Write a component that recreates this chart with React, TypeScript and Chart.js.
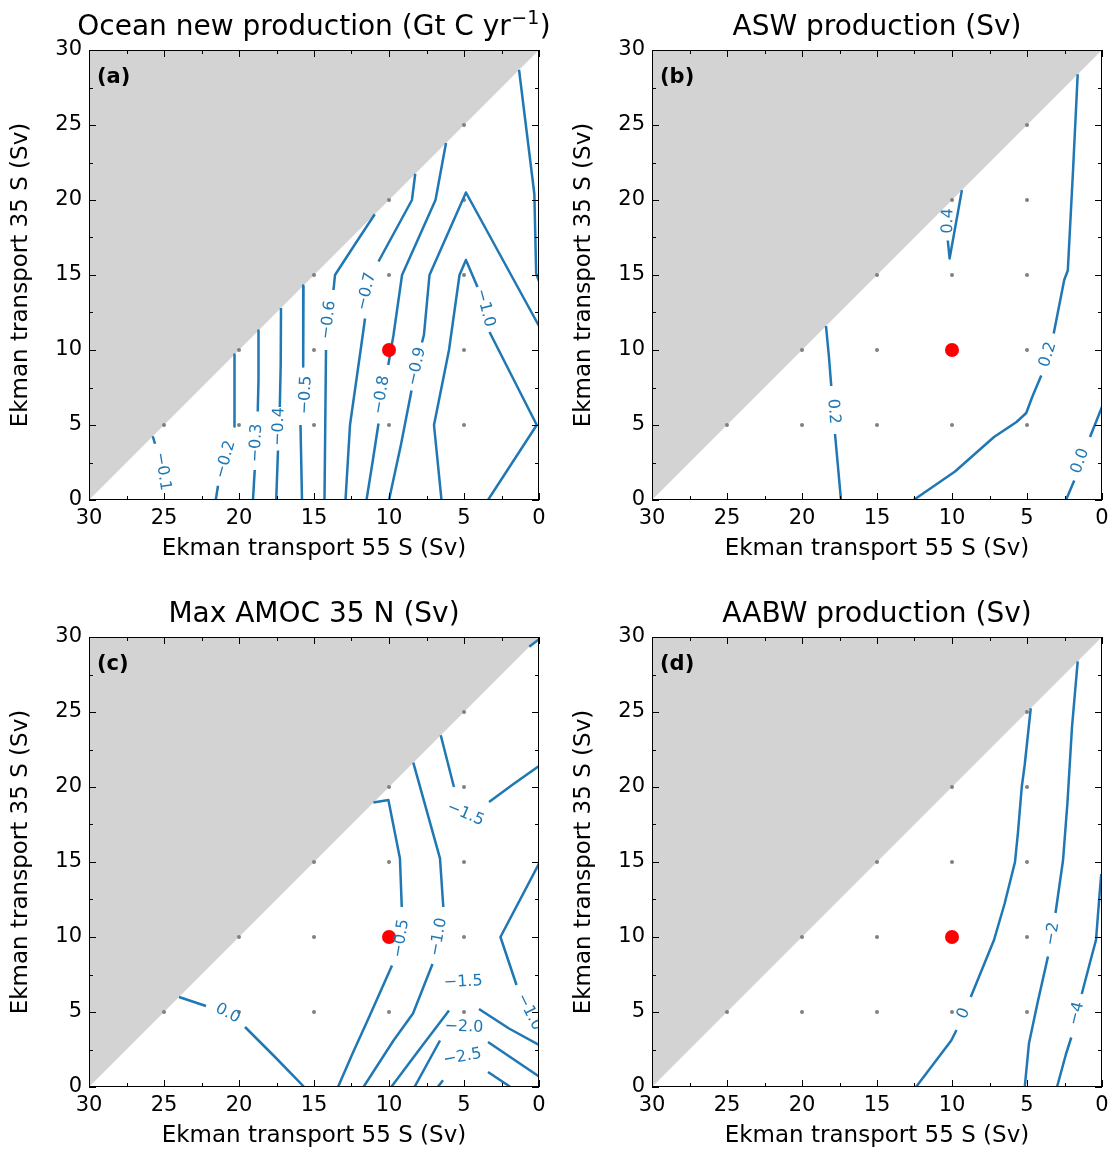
import React, { useEffect, useRef } from 'react';
import { Chart, registerables } from 'chart.js';

Chart.register(...registerables);

type Pt = [number, number] | null;
type ContourLabel = { text: string; x: number; y: number; line: Pt[] };
type TitleParts = { main: string; sup?: string; tail?: string };

const FONT = "'DejaVu Sans', sans-serif";
const LINE_BLUE = '#1f77b4';
const MASK_GREY = '#d3d3d3';

// axis ticks (Sv)
const TICK_VALUES = [0, 5, 10, 15, 20, 25, 30];
const MINOR_TICK_VALUES = [2.5, 7.5, 12.5, 17.5, 22.5, 27.5];

// model runs (grey dots) and control run (red dot)
const SAMPLE_X = [25, 20, 15, 10, 5, 20, 15, 10, 5, 15, 10, 5, 10, 5, 5];
const SAMPLE_Y = [5, 5, 5, 5, 5, 10, 10, 10, 10, 15, 15, 15, 20, 20, 25];
const CONTROL_X = [10];
const CONTROL_Y = [10];

// masked region corners
const MASK_CORNERS: [number, number][] = [[30, 0], [30, 30], [0, 30]];

// ---------- (a) Ocean new production ----------
const A_01: Pt[] = [[25.75, 4.25], [25.6, 3.75], null, [25.0, 0]];
const A_02: Pt[] = [[20.3, 9.7], [20.3, 7.5], [20.3, 4.9], null, [21.4, 0.95], [21.55, 0]];
const A_03: Pt[] = [[18.7, 11.3], [18.7, 8.0], [18.75, 5.9], null, [18.95, 2.0], [19.07, 0]];
const A_04: Pt[] = [[17.2, 12.8], [17.22, 9.0], [17.28, 6.2], null, [17.4, 3.3], [17.52, 0]];
const A_05: Pt[] = [[15.7, 14.3], [15.72, 11.0], [15.72, 8.9], null, [15.9, 5.0], [15.85, 2.5], [15.8, 0]];
const A_06: Pt[] = [[10.95, 19.05], [12.3, 17.0], [13.6, 15.0], [13.7, 14.0], null, [14.2, 10.0], [14.25, 5.0], [14.3, 0]];
const A_07: Pt[] = [[8.25, 21.75], [8.47, 20.0], [10.7, 15.9], null, [11.6, 12.1], [11.75, 11.0], [12.6, 5.0], [12.9, 0]];
const A_08: Pt[] = [[6.2, 23.8], [6.9, 20.0], [9.13, 15.0], [9.7, 11.0], [10.05, 9.0], null, [10.7, 5.1], [11.1, 2.5], [11.5, 0]];
const A_09: Pt[] = [[10.0, 0], [9.2, 3.7], [8.5, 7.3], null, [7.8, 10.5], [7.67, 11.0], [7.3, 15.0], [4.87, 20.5], [0, 11.6]];
const A_10: Pt[] = [[6.5, 0], [7.0, 5.0], [6.0, 10.0], [5.3, 15.0], [4.87, 16.0], [4.4, 14.9], [4.1, 14.2], null, [3.3, 11.2], [0.15, 5.0], [3.4, 0]];
const A_11: Pt[] = [[1.33, 28.67], [0.31, 20.4], [0.19, 15.1], [0, 14.6]];
const A_CONTOURS = [A_01, A_02, A_03, A_04, A_05, A_06, A_07, A_08, A_09, A_10, A_11];
const A_LABELS: ContourLabel[] = [
  { text: '−0.1', x: 25.1, y: 1.9, line: A_01 },
  { text: '−0.2', x: 20.9, y: 2.7, line: A_02 },
  { text: '−0.3', x: 18.85, y: 3.8, line: A_03 },
  { text: '−0.4', x: 17.35, y: 4.9, line: A_04 },
  { text: '−0.5', x: 15.55, y: 7.0, line: A_05 },
  { text: '−0.6', x: 14.05, y: 12.0, line: A_06 },
  { text: '−0.7', x: 11.5, y: 13.9, line: A_07 },
  { text: '−0.8', x: 10.5, y: 7.0, line: A_08 },
  { text: '−0.9', x: 8.15, y: 8.9, line: A_09 },
  { text: '−1.0', x: 3.6, y: 12.8, line: A_10 },
];

// ---------- (b) ASW production ----------
const B_01: Pt[] = [[18.4, 11.6], [18.2, 9.5], [18.05, 7.6], null, [17.8, 4.4], [17.6, 2.2], [17.4, 0]];
const B_02: Pt[] = [[12.56, 0], [9.8, 1.9], [7.2, 4.2], [5.7, 5.2], [5.05, 5.8], [4.64, 6.9], [4.05, 8.3], null, [3.22, 11.1], [2.52, 14.67], [2.28, 15.3], [1.93, 22.0], [1.62, 28.38]];
const B_03: Pt[] = [[0, 6.2], [0.8, 4.2], null, [1.85, 1.3], [2.4, 0]];
const B_04: Pt[] = [[10.22, 19.78], null, [10.28, 17.3], [10.16, 16.1], [9.34, 20.66]];
const B_CONTOURS = [B_01, B_02, B_03, B_04];
const B_LABELS: ContourLabel[] = [
  { text: '0.2', x: 17.9, y: 5.9, line: B_01 },
  { text: '0.2', x: 3.6, y: 9.7, line: B_02 },
  { text: '0.0', x: 1.45, y: 2.6, line: B_03 },
  { text: '0.4', x: 10.26, y: 18.6, line: B_04 },
];

// ---------- (c) Max AMOC 35 N ----------
const C_01: Pt[] = [[24.0, 6.0], [22.2, 5.4], null, [19.6, 4.0], [17.6, 2.0], [15.65, 0]];
const C_02: Pt[] = [[11.04, 18.96], [10.04, 19.13], [9.27, 15.24], [9.15, 12.0], null, [9.8, 8.1], [11.4, 4.5], [12.4, 2.3], [13.4, 0]];
const C_03: Pt[] = [[8.38, 21.62], [6.6, 15.24], [6.38, 12.0], null, [7.1, 8.2], [8.4, 4.9], [9.7, 3.1], [11.7, 0]];
const C_04: Pt[] = [[6.55, 23.45], [5.67, 20.0], null, [3.33, 19.0], [1.7, 20.2], [0, 21.4]];
const C_05: Pt[] = [[0.65, 29.35], [0, 29.85]];
const C_06: Pt[] = [[9.85, 0], [7.9, 2.6], [6.0, 5.1], null, [4.0, 5.2], [2.0, 3.9], [0, 2.8]];
const C_07: Pt[] = [[8.3, 0], [6.6, 3.1], null, [3.4, 3.0], [0, 0.7]];
const C_08: Pt[] = [[6.75, 0], [6.4, 0.45], null, [3.4, 1.0], [1.9, 0]];
const C_09: Pt[] = [[0, 14.9], [2.57, 10.0], [1.5, 6.8], null, [0, 3.8]];
const C_CONTOURS = [C_01, C_02, C_03, C_04, C_05, C_06, C_07, C_08, C_09];
const C_LABELS: ContourLabel[] = [
  { text: '0.0', x: 20.75, y: 4.9, line: C_01 },
  { text: '−0.5', x: 9.2, y: 9.9, line: C_02 },
  { text: '−1.0', x: 6.7, y: 10.0, line: C_03 },
  { text: '−1.5', x: 4.9, y: 18.2, line: C_04 },
  { text: '−1.5', x: 5.05, y: 7.0, line: C_06 },
  { text: '−2.0', x: 5.0, y: 4.0, line: C_07 },
  { text: '−2.5', x: 5.1, y: 2.0, line: C_08 },
  { text: '−1.0', x: 0.65, y: 5.0, line: C_09 },
];

// ---------- (d) AABW production ----------
const D_01: Pt[] = [[12.4, 0], [10.05, 3.1], [9.7, 3.8], null, [8.75, 6.0], [7.2, 9.8], [6.5, 12.2], [5.8, 15.0], [5.6, 17.0], [5.35, 20.0], [5.15, 21.5], [4.75, 25.25]];
const D_02: Pt[] = [[5.15, 0], [4.87, 2.9], [4.3, 5.6], [3.6, 8.7], null, [3.1, 11.6], [2.6, 15.1], [2.3, 19.0], [2.0, 24.0], [1.62, 28.38]];
const D_03: Pt[] = [[3.0, 0], [2.4, 2.2], [2.05, 3.3], null, [1.35, 6.2], [0.8, 8.3], [0.4, 9.8], [0.15, 13.0], [0.05, 14.2]];
const D_CONTOURS = [D_01, D_02, D_03];
const D_LABELS: ContourLabel[] = [
  { text: '0', x: 9.22, y: 4.9, line: D_01 },
  { text: '−2', x: 3.3, y: 10.2, line: D_02 },
  { text: '−4', x: 1.7, y: 4.9, line: D_03 },
];

const X_TITLE = 'Ekman transport 55 S (Sv)';
const Y_TITLE = 'Ekman transport 35 S (Sv)';

function splitPieces(line: Pt[]): [number, number][][] {
  const pieces: [number, number][][] = [];
  let cur: [number, number][] = [];
  for (const p of line) {
    if (p === null) {
      if (cur.length > 1) pieces.push(cur);
      cur = [];
    } else cur.push(p);
  }
  if (cur.length > 1) pieces.push(cur);
  return pieces;
}

function gapAngle(line: Pt[], xs: any, ys: any): number {
  const i = line.indexOf(null);
  if (i < 1 || i >= line.length - 1) return 0;
  const a = line[i - 1] as [number, number];
  const b = line[i + 1] as [number, number];
  const dx = xs.getPixelForValue(b[0]) - xs.getPixelForValue(a[0]);
  const dy = ys.getPixelForValue(b[1]) - ys.getPixelForValue(a[1]);
  let ang = Math.atan2(dy, dx);
  if (ang > Math.PI / 2) ang -= Math.PI;
  if (ang <= -Math.PI / 2) ang += Math.PI;
  return ang;
}

function makeDecor(title: TitleParts, letter: string, labels: ContourLabel[]) {
  return {
    id: 'panelDecor',
    beforeDatasetsDraw(chart: any) {
      const { ctx, chartArea, scales } = chart;
      const { x, y } = scales;
      ctx.save();
      ctx.beginPath();
      ctx.rect(chartArea.left, chartArea.top, chartArea.right - chartArea.left, chartArea.bottom - chartArea.top);
      ctx.clip();
      ctx.fillStyle = MASK_GREY;
      ctx.beginPath();
      MASK_CORNERS.forEach(([vx, vy], i) => {
        const px = x.getPixelForValue(vx);
        const py = y.getPixelForValue(vy);
        if (i === 0) ctx.moveTo(px, py);
        else ctx.lineTo(px, py);
      });
      ctx.closePath();
      ctx.fill();
      ctx.restore();
    },
    afterDatasetsDraw(chart: any) {
      const { ctx, chartArea, scales } = chart;
      const { x, y } = scales;
      ctx.save();
      ctx.beginPath();
      ctx.rect(chartArea.left, chartArea.top, chartArea.right - chartArea.left, chartArea.bottom - chartArea.top);
      ctx.clip();
      ctx.font = `16px ${FONT}`;
      ctx.fillStyle = LINE_BLUE;
      ctx.textAlign = 'center';
      ctx.textBaseline = 'middle';
      for (const lab of labels) {
        const px = x.getPixelForValue(lab.x);
        const py = y.getPixelForValue(lab.y);
        const ang = gapAngle(lab.line, x, y);
        ctx.save();
        ctx.translate(px, py);
        ctx.rotate(ang);
        ctx.fillText(lab.text, 0, 0);
        ctx.restore();
      }
      ctx.restore();
    },
    afterDraw(chart: any) {
      const { ctx, chartArea, scales } = chart;
      const { x, y } = scales;
      const { left, right, top, bottom } = chartArea;
      ctx.save();
      ctx.strokeStyle = '#000';
      ctx.lineWidth = 1;
      const line = (x1: number, y1: number, x2: number, y2: number) => {
        ctx.beginPath();
        ctx.moveTo(x1, y1);
        ctx.lineTo(x2, y2);
        ctx.stroke();
      };
      const sets: [number[], number][] = [[TICK_VALUES, 7], [MINOR_TICK_VALUES, 4]];
      for (const [vals, len] of sets) {
        for (const v of vals) {
          const px = Math.round(x.getPixelForValue(v)) + 0.5;
          line(px, bottom, px, bottom - len);
          line(px, top, px, top + len);
          const py = Math.round(y.getPixelForValue(v)) + 0.5;
          line(left, py, left + len, py);
          line(right, py, right - len, py);
        }
      }
      ctx.strokeRect(left + 0.5, top + 0.5, right - left - 1, bottom - top - 1);

      // title with optional superscript
      ctx.fillStyle = '#000';
      ctx.textBaseline = 'alphabetic';
      ctx.textAlign = 'left';
      const mainFont = `28px ${FONT}`;
      const supFont = `19px ${FONT}`;
      ctx.font = mainFont;
      const wMain = ctx.measureText(title.main).width;
      const wTail = title.tail ? ctx.measureText(title.tail).width : 0;
      ctx.font = supFont;
      const wSup = title.sup ? ctx.measureText(title.sup).width + 1 : 0;
      const total = wMain + wSup + wTail;
      let tx = (left + right) / 2 - total / 2;
      const base = 35;
      ctx.font = mainFont;
      ctx.fillText(title.main, tx, base);
      tx += wMain;
      if (title.sup) {
        ctx.font = supFont;
        ctx.fillText(title.sup, tx + 0.5, base - 11);
        tx += wSup;
      }
      if (title.tail) {
        ctx.font = mainFont;
        ctx.fillText(title.tail, tx, base);
      }

      ctx.font = `bold 21px ${FONT}`;
      ctx.textAlign = 'left';
      ctx.fillText(`(${letter})`, left + 8, top + 33);
      ctx.restore();
    },
  };
}

type PanelProps = {
  title: TitleParts;
  letter: string;
  contours: Pt[][];
  labels: ContourLabel[];
  left: number;
  top: number;
};

const CANVAS_W = 552;
const CANVAS_H = 567;

function Panel({ title, letter, contours, labels, left, top }: PanelProps) {
  const ref = useRef<HTMLCanvasElement>(null);
  useEffect(() => {
    if (!ref.current) return;
    const datasets: any[] = [];
    datasets.push({
      data: CONTROL_X.map((vx, i) => ({ x: vx, y: CONTROL_Y[i] })),
      showLine: false,
      pointRadius: 7,
      pointBackgroundColor: '#ff0000',
      pointBorderColor: '#ff0000',
      pointBorderWidth: 0,
      backgroundColor: '#ff0000',
      borderColor: '#ff0000',
    });
    contours.forEach((c) => {
      splitPieces(c).forEach((piece) => {
        datasets.push({
          data: piece.map(([vx, vy]) => ({ x: vx, y: vy })),
          showLine: true,
          borderColor: LINE_BLUE,
          backgroundColor: LINE_BLUE,
          borderWidth: 2.5,
          borderJoinStyle: 'round',
          borderCapStyle: 'butt',
          pointRadius: 0,
          tension: 0,
          fill: false,
        });
      });
    });
    datasets.push({
      data: SAMPLE_X.map((vx, i) => ({ x: vx, y: SAMPLE_Y[i] })),
      showLine: false,
      pointRadius: 2,
      pointBackgroundColor: '#808080',
      pointBorderColor: '#808080',
      pointBorderWidth: 0,
      backgroundColor: '#808080',
      borderColor: '#808080',
    });

    const tickFont = { family: FONT, size: 21 };
    const titleFont = { family: FONT, size: 23 };
    const chart = new Chart(ref.current, {
      type: 'scatter',
      data: { datasets },
      options: {
        animation: false,
        responsive: false,
        devicePixelRatio: 1,
        events: [],
        layout: { padding: { top: 50, right: 13, left: 0, bottom: 0 } },
        plugins: {
          legend: { display: false },
          tooltip: { enabled: false },
          title: { display: false },
        },
        scales: {
          x: {
            type: 'linear',
            min: 0,
            max: 30,
            reverse: true,
            afterFit: (s: any) => {
              s.height = 67;
            },
            afterBuildTicks: (s: any) => {
              s.ticks = TICK_VALUES.map((v) => ({ value: v }));
            },
            grid: { display: false, drawTicks: false },
            border: { display: false },
            ticks: { color: '#000', font: tickFont, padding: 6, maxRotation: 0, autoSkip: false },
            title: { display: true, text: X_TITLE, color: '#000', font: titleFont, padding: { top: 0, bottom: 4 } },
          },
          y: {
            type: 'linear',
            min: 0,
            max: 30,
            afterFit: (s: any) => {
              s.width = 89;
            },
            afterBuildTicks: (s: any) => {
              s.ticks = TICK_VALUES.map((v) => ({ value: v }));
            },
            grid: { display: false, drawTicks: false },
            border: { display: false },
            ticks: { color: '#000', font: tickFont, padding: 7, autoSkip: false },
            title: { display: true, text: Y_TITLE, color: '#000', font: titleFont, padding: { top: 7, bottom: 0 } },
          },
        },
      } as any,
      plugins: [makeDecor(title, letter, labels)],
    });
    return () => chart.destroy();
  }, []);
  return (
    <canvas
      ref={ref}
      width={CANVAS_W}
      height={CANVAS_H}
      style={{ position: 'absolute', left, top, width: CANVAS_W, height: CANVAS_H }}
    />
  );
}

const TITLE_A: TitleParts = { main: 'Ocean new production (Gt C yr', sup: '−1', tail: ')' };
const TITLE_B: TitleParts = { main: 'ASW production (Sv)' };
const TITLE_C: TitleParts = { main: 'Max AMOC 35 N (Sv)' };
const TITLE_D: TitleParts = { main: 'AABW production (Sv)' };

export default function App() {
  return (
    <div
      style={{
        position: 'absolute',
        left: 0,
        top: 0,
        width: 1115,
        height: 1154,
        overflow: 'hidden',
        background: '#fff',
      }}
    >
      <Panel title={TITLE_A} letter="a" contours={A_CONTOURS} labels={A_LABELS} left={0} top={0} />
      <Panel title={TITLE_B} letter="b" contours={B_CONTOURS} labels={B_LABELS} left={563} top={0} />
      <Panel title={TITLE_C} letter="c" contours={C_CONTOURS} labels={C_LABELS} left={0} top={587} />
      <Panel title={TITLE_D} letter="d" contours={D_CONTOURS} labels={D_LABELS} left={563} top={587} />
    </div>
  );
}
